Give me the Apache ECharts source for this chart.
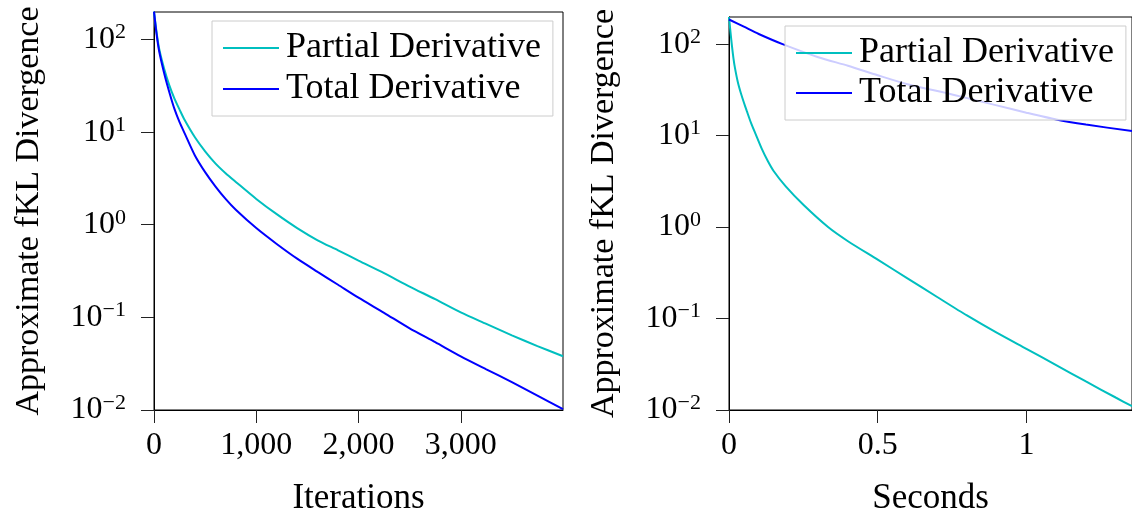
<!DOCTYPE html>
<html>
<head>
<meta charset="utf-8">
<script src="https://cdn.jsdelivr.net/npm/echarts@6/dist/echarts.min.js"></script>
<style>
html,body{margin:0;padding:0;background:#fff;}
#chart{width:1132px;height:521px;}
</style>
</head>
<body>
<div id="chart"></div>
<script>
// ---- Data ----
const seriesNames = ['Partial Derivative', 'Total Derivative'];

// Left panel: iterations vs approximate fKL divergence
const iterPartial = [
  [0,200],[25,120],[50,80],[100,48],[150,32],[200,23],[250,17.5],[300,13.5],[400,8.8],
  [500,6.2],[600,4.6],[700,3.6],[800,2.9],[1000,1.9],[1200,1.3],[1400,0.92],[1600,0.68],
  [1800,0.53],[2000,0.41],[2250,0.3],[2500,0.215],[2750,0.157],[3000,0.113],[3250,0.085],
  [3500,0.064],[3750,0.049],[4000,0.038]
];
const iterTotal = [
  [0,200],[25,115],[50,75],[100,43],[150,27],[200,17.8],[250,12.8],[300,9.7],[400,5.6],
  [500,3.7],[600,2.6],[700,1.9],[800,1.45],[1000,0.92],[1200,0.62],[1400,0.43],[1600,0.31],
  [1800,0.225],[2000,0.163],[2250,0.112],[2500,0.076],[2750,0.054],[3000,0.038],[3250,0.0275],
  [3500,0.02],[3750,0.0143],[4000,0.0102]
];

// Right panel: seconds vs approximate fKL divergence
const secPartial = [
  [0,198],[0.005,135],[0.01,95],[0.015,70],[0.02,55],[0.03,38],[0.04,29],[0.05,23],
  [0.06,18.5],[0.075,13.5],[0.09,10.3],[0.11,7.2],[0.13,5.3],[0.15,4.1],[0.19,2.8],
  [0.25,1.75],[0.333,1.0],[0.4,0.7],[0.5,0.44],[0.6,0.275],[0.7,0.172],[0.8,0.108],
  [0.9,0.07],[1.0,0.0466],[1.1,0.031],[1.2,0.0205],[1.3,0.0137],[1.355,0.011]
];
const secTotal = [
  [0,186],[0.05,155],[0.1,129],[0.18,100],[0.3,72],[0.4,58],[0.5,45.7],[0.6,36.5],
  [0.75,28.2],[0.9,21.4],[1.0,17.8],[1.1,15],[1.2,13.2],[1.355,11.2]
];

// Tick values
const yTicks = [0.01, 0.1, 1, 10, 100];
const xTicksIter = [0, 1000, 2000, 3000];
const xTicksSec = [0, 0.5, 1];

// ---- Styling ----
const SERIF = '"Liberation Serif", "Times New Roman", serif';
const TEAL = '#00BFBF';
const BLUE = '#0000FF';

function yLabel(v) {
  const e = Math.round(Math.log10(v));
  const es = e < 0 ? '\u2212' + (-e) : String(e);
  return '{a|10}{s|' + es + '}';
}
const yRich = {
  a: { fontSize: 32, fontFamily: SERIF, color: '#000', lineHeight: 36 },
  s: { fontSize: 22, fontFamily: SERIF, color: '#000', verticalAlign: 'top', lineHeight: 22 }
};

function yAxisDef(gridIndex) {
  return {
    type: 'log', logBase: 10, gridIndex: gridIndex, min: 0.01, max: 198,
    name: 'Approximate fKL Divergence', nameLocation: 'middle', nameGap: 108,
    nameTextStyle: { fontSize: 34, fontFamily: SERIF, color: '#000' },
    axisLine: { show: true, lineStyle: { color: '#000', width: 1 } },
    axisTick: { show: true, inside: false, length: 13, customValues: yTicks, lineStyle: { color: '#222', width: 1 } },
    axisLabel: { show: true, margin: 28, customValues: yTicks, formatter: yLabel, rich: yRich },
    splitLine: { show: false },
    minorTick: { show: false }
  };
}

function xAxisDef(gridIndex, max, ticks, name, fmt) {
  return {
    type: 'value', gridIndex: gridIndex, min: 0, max: max,
    name: name, nameLocation: 'middle', nameGap: 71,
    nameTextStyle: { fontSize: 35, fontFamily: SERIF, color: '#000' },
    axisLine: { show: true, onZero: false, lineStyle: { color: '#000', width: 1 } },
    axisTick: { show: true, inside: false, length: 13, customValues: ticks, lineStyle: { color: '#222', width: 1 } },
    axisLabel: { show: true, margin: 20, customValues: ticks, formatter: fmt,
      fontSize: 32, fontFamily: SERIF, color: '#000' },
    splitLine: { show: false }
  };
}

function legendDef(left, top, gap) {
  return {
    data: seriesNames.map(n => ({ name: n, icon: 'rect' })),
    orient: 'vertical', left: left, top: top,
    itemWidth: 56, itemHeight: 2, itemGap: gap,
    padding: [9, 12, 9, 11],
    backgroundColor: 'rgba(255,255,255,0.8)',
    borderColor: '#cccccc', borderWidth: 1, borderRadius: 0,
    textStyle: { fontSize: 36, fontFamily: SERIF, color: '#000', padding: [0, 0, 0, 2] },
    selectedMode: false
  };
}

function lineSeries(name, data, color, xi, yi) {
  return {
    type: 'line', name: name, data: data, xAxisIndex: xi, yAxisIndex: yi,
    showSymbol: false, symbol: 'none', smooth: 0.25,
    lineStyle: { color: color, width: 2 }, itemStyle: { color: color },
    animation: false, z: 2
  };
}

const chart = echarts.init(document.getElementById('chart'), null, { renderer: 'canvas' });
chart.setOption({
  animation: false,
  backgroundColor: '#fff',
  grid: [
    { left: 154, top: 12, width: 409, height: 408, show: true, borderColor: '#000', borderWidth: 1, backgroundColor: 'transparent' },
    { left: 729, top: 17, width: 404, height: 409, show: true, borderColor: '#000', borderWidth: 1, backgroundColor: 'transparent' }
  ],
  xAxis: [
    xAxisDef(0, 4000, xTicksIter, 'Iterations', v => v.toLocaleString('en-US')),
    xAxisDef(1, 1.355, xTicksSec, 'Seconds', v => String(v))
  ],
  yAxis: [yAxisDef(0), yAxisDef(1)],
  legend: [legendDef(212, 21, 5), legendDef(785, 26, 4)],
  series: [
    lineSeries(seriesNames[0], iterPartial, TEAL, 0, 0),
    lineSeries(seriesNames[1], iterTotal, BLUE, 0, 0),
    lineSeries(seriesNames[0], secPartial, TEAL, 1, 1),
    lineSeries(seriesNames[1], secTotal, BLUE, 1, 1)
  ]
});
</script>
</body>
</html>
